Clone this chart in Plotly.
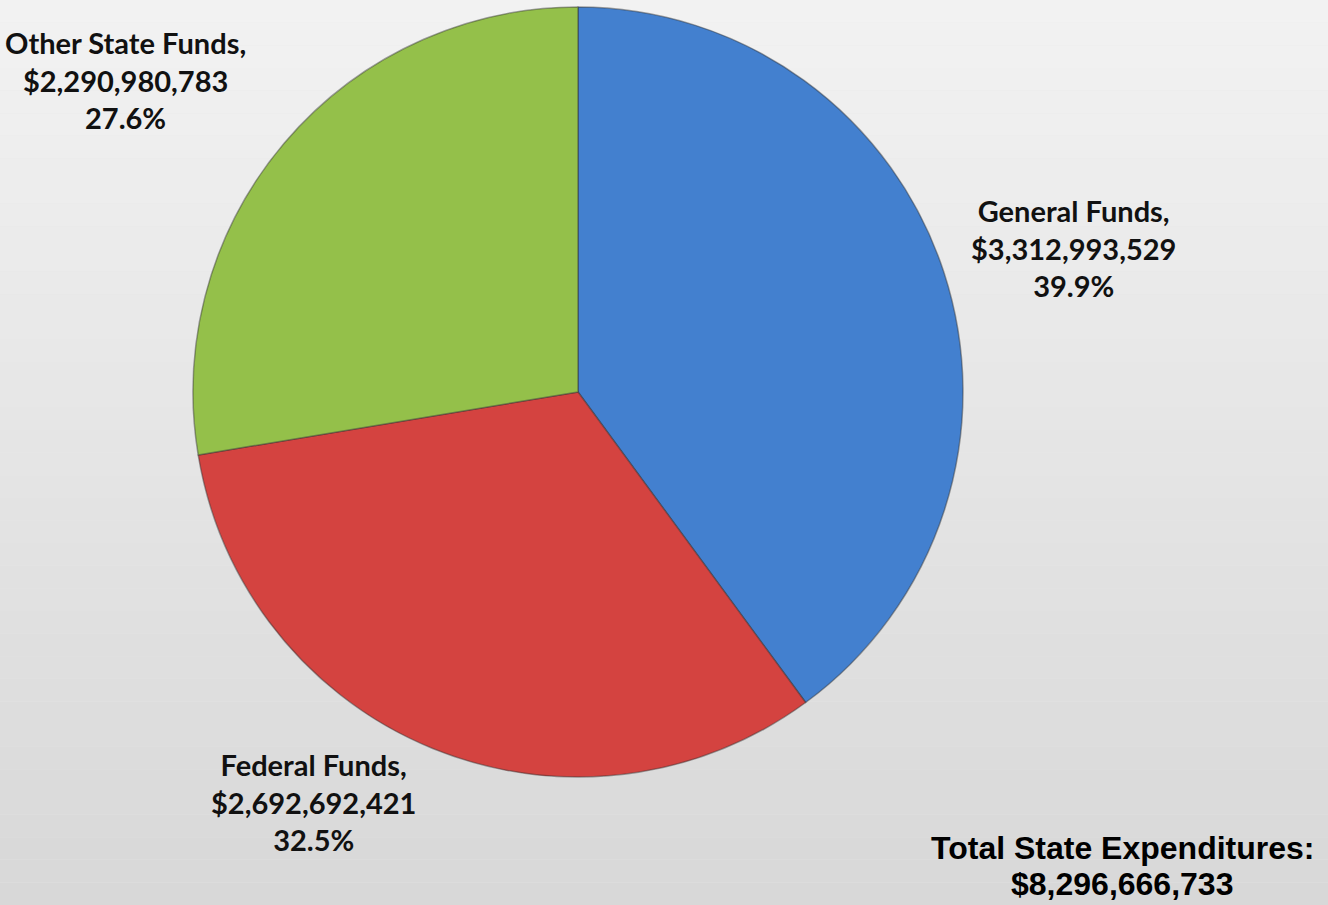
import plotly.graph_objects as go

categories = ["General Funds", "Federal Funds", "Other State Funds"]
amounts = [3312993529, 2692692421, 2290980783]
amount_labels = ["$3,312,993,529", "$2,692,692,421", "$2,290,980,783"]
percent_labels = ["39.9%", "32.5%", "27.6%"]
colors = ["#4380cf", "#d44340", "#94c04a"]
total_title = "Total State Expenditures:"
total_value = "$8,296,666,733"

W, H = 1328, 905

fig = go.Figure()
fig.add_trace(go.Pie(
    labels=categories,
    values=amounts,
    sort=False,
    direction="clockwise",
    rotation=0,
    textinfo="none",
    hoverinfo="label+value+percent",
    marker=dict(colors=colors, line=dict(color="rgba(50,50,50,0.45)", width=1.5)),
    domain=dict(x=[193 / W, 963 / W], y=[1 - 777 / H, 1 - 7 / H]),
    showlegend=False,
))

# background gradient bands
shapes = []
n = 40
top = (242, 242, 242)
bot = (216, 216, 216)
for i in range(n):
    t = i / (n - 1)
    c = tuple(int(round(top[k] + (bot[k] - top[k]) * t)) for k in range(3))
    shapes.append(dict(type="rect", xref="paper", yref="paper",
                       x0=0, x1=1, y0=1 - (i + 1) / n, y1=1 - i / n,
                       fillcolor="rgb(%d,%d,%d)" % c, line=dict(width=0), layer="below"))

label_font = dict(family="Lato, 'Open Sans', sans-serif", size=29, color="#111111")
label_pos = {
    "General Funds": (1073, 248),
    "Federal Funds": (313, 802),
    "Other State Funds": (125, 80),
}
annotations = []
for cat, amt, pct in zip(categories, amount_labels, percent_labels):
    x, y = label_pos[cat]
    annotations.append(dict(
        x=x / W, y=1 - y / H, xref="paper", yref="paper",
        text="<b>%s,<br>%s<br>%s</b>" % (cat, amt, pct),
        showarrow=False, align="center", xanchor="center", yanchor="middle",
        font=label_font,
    ))
total_font = dict(family="'Liberation Sans', Arial, sans-serif", size=32, color="#000000")
for txt, y in [(total_title, 848), (total_value, 884)]:
    annotations.append(dict(
        x=1122 / W, y=1 - y / H, xref="paper", yref="paper",
        text="<b>%s</b>" % txt,
        showarrow=False, align="center", xanchor="center", yanchor="middle",
        font=total_font,
    ))

fig.update_layout(
    width=W, height=H,
    margin=dict(l=0, r=0, t=0, b=0),
    paper_bgcolor="#e6e6e6",
    plot_bgcolor="#e6e6e6",
    shapes=shapes,
    annotations=annotations,
)

fig.write_html("out.html",
               config={"displayModeBar": False},
               post_script="document.body.style.margin='0';document.body.style.overflow='hidden';")
